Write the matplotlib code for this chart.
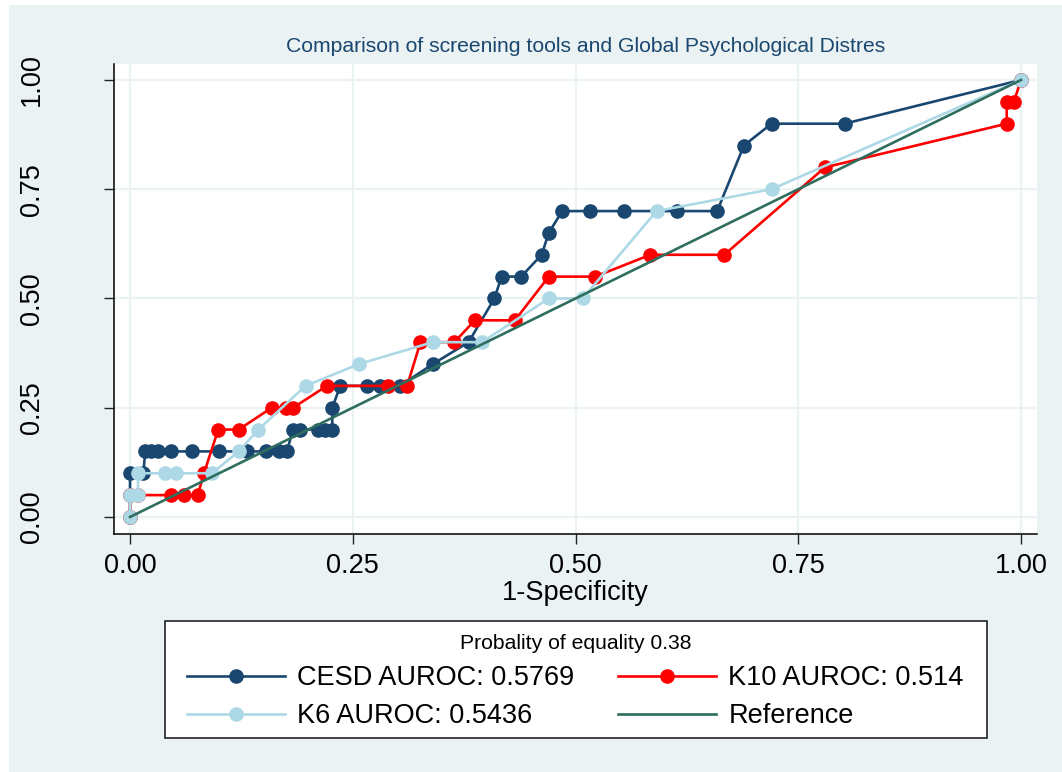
import matplotlib
matplotlib.use("Agg")
import matplotlib.pyplot as plt
from matplotlib.patches import Rectangle

plt.rcParams['font.family'] = ['Liberation Sans', 'DejaVu Sans']

# ROC points (1-specificity, sensitivity) for each screening tool
cesd_fpr = [0, 0, 0, 0.015, 0.017, 0.024, 0.031, 0.046, 0.070, 0.100, 0.131, 0.153, 0.167, 0.176,
            0.183, 0.191, 0.211, 0.219, 0.227, 0.227, 0.236, 0.266, 0.281, 0.303, 0.340, 0.380,
            0.409, 0.417, 0.439, 0.462, 0.470, 0.485, 0.516, 0.554, 0.614, 0.659, 0.689, 0.720,
            0.802, 1.0]
cesd_tpr = [0, 0.05, 0.10, 0.10, 0.15, 0.15, 0.15, 0.15, 0.15, 0.15, 0.15, 0.15, 0.15, 0.15,
            0.20, 0.20, 0.20, 0.20, 0.20, 0.25, 0.30, 0.30, 0.30, 0.30, 0.35, 0.40,
            0.50, 0.55, 0.55, 0.60, 0.65, 0.70, 0.70, 0.70, 0.70, 0.70, 0.85, 0.90,
            0.90, 1.0]

k10_fpr = [0, 0, 0.009, 0.046, 0.061, 0.076, 0.083, 0.099, 0.122, 0.159, 0.175, 0.183, 0.221,
           0.289, 0.311, 0.326, 0.364, 0.387, 0.432, 0.470, 0.522, 0.584, 0.667, 0.780, 0.984,
           0.984, 0.992, 1.0]
k10_tpr = [0, 0.05, 0.05, 0.05, 0.05, 0.05, 0.10, 0.20, 0.20, 0.25, 0.25, 0.25, 0.30,
           0.30, 0.30, 0.40, 0.40, 0.45, 0.45, 0.55, 0.55, 0.60, 0.60, 0.80, 0.90,
           0.95, 0.95, 1.0]

k6_fpr = [0, 0, 0.009, 0.009, 0.039, 0.052, 0.092, 0.122, 0.144, 0.197, 0.257, 0.340, 0.395,
          0.470, 0.508, 0.591, 0.720, 1.0]
k6_tpr = [0, 0.05, 0.05, 0.10, 0.10, 0.10, 0.10, 0.15, 0.20, 0.30, 0.35, 0.40, 0.40,
          0.50, 0.50, 0.70, 0.75, 1.0]

ref_line = [0, 1]
ticks = [0, 0.25, 0.5, 0.75, 1.0]
tick_labels = ['0.00', '0.25', '0.50', '0.75', '1.00']

labels = ['CESD AUROC: 0.5769', 'K10 AUROC: 0.514', 'K6 AUROC: 0.5436', 'Reference']
legend_title = 'Probality of equality 0.38'

navy = '#1A476F'
bg = '#EAF2F3'

W, H = 1062, 772
fig = plt.figure(figsize=(W / 100, H / 100), dpi=100, facecolor='white')
fig.patches.append(Rectangle((9 / W, 0), 1, 1 - 5 / H, transform=fig.transFigure,
                             facecolor=bg, edgecolor='none', zorder=-10))

ax = fig.add_axes([114 / W, 1 - 534 / H, (1037 - 114) / W, (534 - 64) / H])
ax.set_facecolor('white')

mk = dict(marker='o', markersize=9.5, linewidth=1.9)
l1, = ax.plot(cesd_fpr, cesd_tpr, color=navy, markeredgecolor=navy, **mk)
l2, = ax.plot(k10_fpr, k10_tpr, color='#FF0000', markeredgecolor='#FF0000', **mk)
l3, = ax.plot(k6_fpr, k6_tpr, color='#ADD8E6', markeredgecolor='#ADD8E6', **mk)
l4, = ax.plot(ref_line, ref_line, color='#2F6E5F', linewidth=1.9)

ax.set_xlim(-0.018, 1.018)
ax.set_ylim(-0.039, 1.0366)
ax.set_xticks(ticks)
ax.set_xticklabels(tick_labels)
ax.set_yticks(ticks)
ax.set_yticklabels(tick_labels, rotation=90, va='center')
ax.grid(True, color=bg, linewidth=1.6)
ax.set_axisbelow(True)
ax.tick_params(axis='both', length=7.5, width=1.0, color='#222222', labelsize=19.5)
ax.tick_params(axis='x', pad=6)
ax.tick_params(axis='y', pad=42)
for side in ['top', 'right']:
    ax.spines[side].set_visible(False)
for side in ['left', 'bottom']:
    ax.spines[side].set_linewidth(1.1)
    ax.spines[side].set_color('black')

ax.set_xlabel('1-Specificity', fontsize=19.5, labelpad=1)

fig.text(585.5 / W, 1 - 47 / H, 'Comparison of screening tools and Global Psychological Distres',
         ha='center', va='center', fontsize=15.2, color=navy)

# legend box drawn separately so its padding can differ from the entry layout
fig.patches.append(Rectangle((165 / W, 1 - 738 / H), (987 - 165) / W, (738 - 621) / H,
                             transform=fig.transFigure, facecolor='white',
                             edgecolor='#222222', linewidth=1.2, zorder=4))

# legend fills column by column, so order handles to read row by row
leg = fig.legend([l1, l3, l2, l4], [labels[0], labels[2], labels[1], labels[3]],
                 title=legend_title, ncol=2, loc='upper left',
                 bbox_to_anchor=(187 / W, 1 - 634 / H),
                 fontsize=19.5, title_fontsize=15.2, numpoints=1,
                 handlelength=3.62, handletextpad=0.45, columnspacing=1.62,
                 frameon=False, borderaxespad=0, labelspacing=0.45, borderpad=0)

fig.savefig('out.png', dpi=100, facecolor='white')
